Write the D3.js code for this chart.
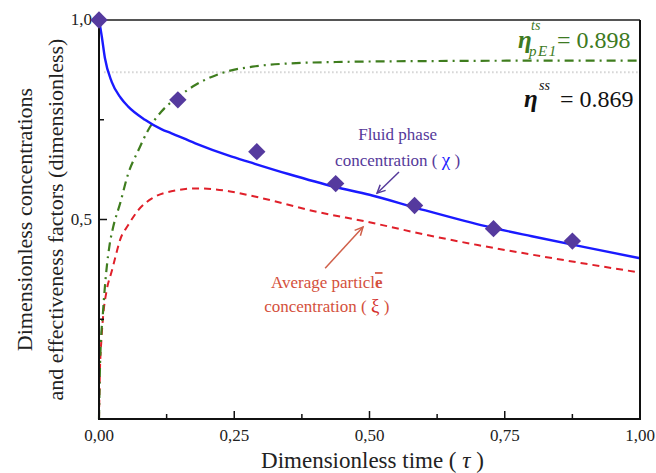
<!DOCTYPE html>
<html>
<head>
<meta charset="utf-8">
<script src="https://cdn.jsdelivr.net/npm/d3@7"></script>
<style>
  html, body { margin: 0; padding: 0; background: #fff; }
  svg { display: block; }
</style>
</head>
<body>
<svg id="chart" width="656" height="473"></svg>
<script>
// ---- data ----
const chiTau = [0, 0.005, 0.011, 0.0235, 0.04, 0.054, 0.085, 0.116, 0.134, 0.178, 0.24, 0.28, 0.35, 0.435, 0.5, 0.589, 0.706, 0.8, 0.9, 1.0];
const chiVal = [1.0, 0.96, 0.904, 0.845, 0.805, 0.783, 0.75, 0.726, 0.716, 0.691, 0.66, 0.643, 0.614, 0.582, 0.562, 0.528, 0.486, 0.458, 0.43, 0.403];

const xiTau = [0, 0.0015, 0.0045, 0.0075, 0.0143, 0.0235, 0.032, 0.039, 0.054, 0.073, 0.098, 0.147, 0.18, 0.24, 0.29, 0.4, 0.5, 0.6, 0.7, 0.8, 0.9, 1.0];
const xiVal = [0, 0.11, 0.2, 0.256, 0.323, 0.37, 0.415, 0.449, 0.486, 0.524, 0.553, 0.574, 0.578, 0.571, 0.557, 0.52, 0.493, 0.463, 0.436, 0.412, 0.389, 0.367];

const etaTau = [0, 0.002, 0.0075, 0.0135, 0.02, 0.026, 0.039, 0.054, 0.073, 0.09, 0.115, 0.147, 0.178, 0.227, 0.289, 0.35, 0.45, 0.6, 0.8, 1.0];
const etaVal = [0, 0.14, 0.27, 0.37, 0.44, 0.48, 0.54, 0.615, 0.674, 0.722, 0.77, 0.808, 0.837, 0.867, 0.884, 0.891, 0.895, 0.897, 0.898, 0.898];

const expTau = [0, 0.1458, 0.2917, 0.4375, 0.5833, 0.7292, 0.875];
const expVal = [1.0, 0.80, 0.67, 0.59, 0.535, 0.477, 0.446];

const etaSS = 0.869;
const etaTS = 0.898;

const xMajorTicks = [0, 0.25, 0.5, 0.75, 1.0];
const xMinorTicks = [0.125, 0.375, 0.625, 0.875];
const yMajorTicks = [0.5, 1.0];
const yMinorTicks = [0.25, 0.75];

// ---- layout ----
const FONT = '"Liberation Serif", "Times New Roman", serif';
const svg = d3.select("#chart");
const L = 99, R = 640, T = 20, B = 419;
const x = d3.scaleLinear().domain([0, 1]).range([L, R]);
const y = d3.scaleLinear().domain([0, 1]).range([B, T]);
const comma = f => v => d3.format(f)(v).replace(".", ",");
const txt = sel => sel.append("text").style("font-family", FONT);

// gray dotted steady-state line
svg.append("line")
  .attr("x1", x(0.01)).attr("x2", x(1)).attr("y1", y(etaSS)).attr("y2", y(etaSS))
  .attr("stroke", "#bdbdbd").attr("stroke-width", 2).attr("stroke-dasharray", "1,3");

const line = d3.line().curve(d3.curveMonotoneX);
const toPts = (t, v) => t.map((d, i) => [x(d), y(v[i])]);

// red dashed (xi)
svg.append("path").attr("d", line(toPts(xiTau, xiVal)))
  .attr("fill", "none").attr("stroke", "#e0202a").attr("stroke-width", 2)
  .attr("stroke-dasharray", "7,5");

// green dash-dot (eta)
svg.append("path").attr("d", line(toPts(etaTau, etaVal)))
  .attr("fill", "none").attr("stroke", "#3f7d1e").attr("stroke-width", 2.2)
  .attr("stroke-dasharray", "9,5,2,5");

// blue solid (chi)
svg.append("path").attr("d", line(toPts(chiTau, chiVal)))
  .attr("fill", "none").attr("stroke", "#1a1aff").attr("stroke-width", 2.4);

// axes frame
const ax = svg.append("g");
ax.append("line").attr("x1", L).attr("x2", R).attr("y1", T).attr("y2", T).attr("stroke", "#555").attr("stroke-width", 2);
ax.append("line").attr("x1", R).attr("x2", R).attr("y1", T).attr("y2", B).attr("stroke", "#111").attr("stroke-width", 2);
ax.append("line").attr("x1", L).attr("x2", L).attr("y1", T).attr("y2", B + 1).attr("stroke", "#111").attr("stroke-width", 2);
ax.append("line").attr("x1", L - 1).attr("x2", R + 1).attr("y1", B).attr("y2", B).attr("stroke", "#111").attr("stroke-width", 2);

// x ticks (inward)
ax.selectAll(".xmaj").data(xMajorTicks).enter().append("line")
  .attr("x1", d => x(d)).attr("x2", d => x(d)).attr("y1", B).attr("y2", B - 8)
  .attr("stroke", "#111").attr("stroke-width", 1.5);
ax.selectAll(".xmin").data(xMinorTicks).enter().append("line")
  .attr("x1", d => x(d)).attr("x2", d => x(d)).attr("y1", B).attr("y2", B - 5)
  .attr("stroke", "#111").attr("stroke-width", 1.5);
ax.selectAll(".xlab").data(xMajorTicks).enter().append("text").style("font-family", FONT)
  .attr("x", d => x(d)).attr("y", 441).attr("text-anchor", "middle")
  .attr("font-size", 17).attr("fill", "#222").text(comma(".2f"));

// y ticks (inward)
ax.selectAll(".ymaj").data(yMajorTicks).enter().append("line")
  .attr("x1", L).attr("x2", L + 8).attr("y1", d => y(d)).attr("y2", d => y(d))
  .attr("stroke", "#111").attr("stroke-width", 1.5);
ax.selectAll(".ymin").data(yMinorTicks).enter().append("line")
  .attr("x1", L).attr("x2", L + 5).attr("y1", d => y(d)).attr("y2", d => y(d))
  .attr("stroke", "#111").attr("stroke-width", 1.5);
ax.selectAll(".ylab").data(yMajorTicks).enter().append("text").style("font-family", FONT)
  .attr("x", L - 7).attr("y", d => y(d) + 5).attr("text-anchor", "end")
  .attr("font-size", 17).attr("fill", "#222").text(comma(".1f"));

// diamonds
svg.selectAll(".dia").data(expTau).enter().append("path")
  .attr("d", d3.symbol().type(d3.symbolSquare).size(150))
  .attr("transform", (d, i) => `translate(${x(d)},${y(expVal[i])}) rotate(45)`)
  .attr("fill", "#553a9e");

// axis titles
const xt = txt(svg).attr("x", x(0.5) + 3).attr("y", 468).attr("text-anchor", "middle")
  .attr("font-size", 23).attr("fill", "#222");
xt.append("tspan").text("Dimensionless time  ( ");
xt.append("tspan").attr("font-style", "italic").text("τ");
xt.append("tspan").text(" )");

txt(svg).attr("transform", `translate(32,${(T + B) / 2}) rotate(-90)`)
  .attr("text-anchor", "middle").attr("font-size", 22).attr("fill", "#222")
  .text("Dimensionless concentrations");
txt(svg).attr("transform", `translate(63,${(T + B) / 2}) rotate(-90)`)
  .attr("text-anchor", "middle").attr("font-size", 22).attr("fill", "#222")
  .text("and effectiveness factors (dimensionless)");

// eta labels
const green = "#3d7a22";
txt(svg).attr("x", 518).attr("y", 48).attr("font-size", 25).attr("font-style", "italic")
  .attr("font-weight", "bold").attr("fill", green).text("η");
txt(svg).attr("x", 531).attr("y", 30).attr("font-size", 14).attr("font-style", "italic")
  .attr("fill", green).text("ts");
txt(svg).attr("x", 529).attr("y", 56).attr("font-size", 15).attr("font-style", "italic")
  .attr("letter-spacing", 1.5).attr("fill", green).text("pE1");
txt(svg).attr("x", 557).attr("y", 48).attr("font-size", 24).attr("fill", green).text("= 0.898");

txt(svg).attr("x", 524).attr("y", 107).attr("font-size", 25).attr("font-style", "italic")
  .attr("font-weight", "bold").attr("fill", "#111").text("η");
txt(svg).attr("x", 539).attr("y", 90).attr("font-size", 14).attr("font-style", "italic")
  .attr("fill", "#111").text("ss");
txt(svg).attr("x", 560).attr("y", 107).attr("font-size", 24).attr("fill", "#111").text("= 0.869");

// annotations
const purple = "#55399a";
txt(svg).attr("x", x(0.552)).attr("y", y(0.699)).attr("text-anchor", "middle")
  .attr("font-size", 17).attr("fill", purple).text("Fluid phase");
const c1 = txt(svg).attr("x", x(0.552)).attr("y", y(0.634)).attr("text-anchor", "middle")
  .attr("font-size", 17).attr("fill", purple);
c1.append("tspan").text("concentration ( ");
c1.append("tspan").attr("fill", "#2020ff").attr("font-size", 19).text("χ");
c1.append("tspan").text(" )");

const redT = "#d4503c";
const a1 = txt(svg).attr("x", x(0.421)).attr("y", y(0.328)).attr("text-anchor", "middle")
  .attr("font-size", 17).attr("fill", redT);
a1.append("tspan").text("Average particl");
a1.append("tspan").attr("font-weight", "bold").attr("text-decoration", "overline").text("e");
const c2 = txt(svg).attr("x", x(0.421)).attr("y", y(0.268)).attr("text-anchor", "middle")
  .attr("font-size", 17).attr("fill", redT);
c2.append("tspan").text("concentration ( ");
c2.append("tspan").attr("fill", "#d4302c").attr("font-size", 19).text("ξ");
c2.append("tspan").text(" )");

function arrow(x1, y1, x2, y2, color) {
  const px1 = x(x1), py1 = y(y1), px2 = x(x2), py2 = y(y2);
  svg.append("line").attr("x1", px1).attr("y1", py1).attr("x2", px2).attr("y2", py2)
    .attr("stroke", color).attr("stroke-width", 1.5);
  const ang = Math.atan2(py2 - py1, px2 - px1);
  const hl = 9, ha = 0.45;
  const p = [
    [px2 - hl * Math.cos(ang - ha), py2 - hl * Math.sin(ang - ha)],
    [px2, py2],
    [px2 - hl * Math.cos(ang + ha), py2 - hl * Math.sin(ang + ha)]
  ];
  svg.append("path").attr("d", d3.line()(p)).attr("fill", "none")
    .attr("stroke", color).attr("stroke-width", 1.5);
}
arrow(0.5545, 0.619, 0.514, 0.566, purple);
arrow(0.418, 0.378, 0.488, 0.481, "#d0604a");
</script>
</body>
</html>
